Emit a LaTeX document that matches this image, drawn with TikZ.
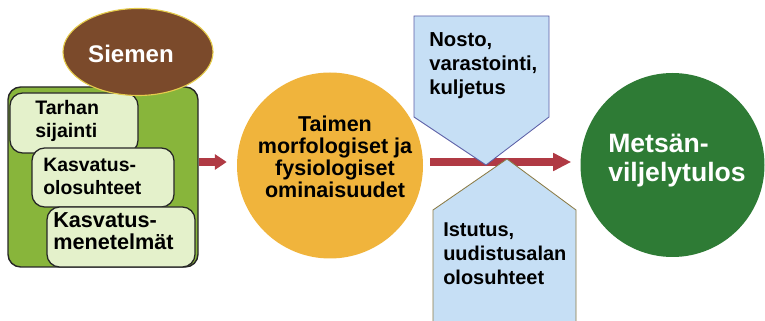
\documentclass[tikz,border=0pt]{standalone}
\usepackage{fontspec}
\setmainfont{Liberation Sans}
\usepackage{xcolor}
\usetikzlibrary{arrows.meta,shapes.geometric}
\newlength\pu
\setlength\pu{0.025cm}
\definecolor{framegreen}{HTML}{88B53B}
\definecolor{boxfill}{HTML}{E4F1CB}
\definecolor{seedbrown}{HTML}{7B4A2B}
\definecolor{plantorange}{HTML}{F0B43C}
\definecolor{resultgreen}{HTML}{2E7B35}
\definecolor{stageblue}{HTML}{C6DFF5}
\definecolor{arrowred}{HTML}{B03A44}
\definecolor{topborder}{HTML}{5B5EA6}
\definecolor{botborder}{HTML}{8B7B45}

\begin{document}
\begin{tikzpicture}[
  x=\pu, y=-\pu,
  frame/.style={
    rectangle, rounded corners=9pt,
    draw=black!85, line width=1pt, fill=framegreen,
    minimum width=190\pu, minimum height=180\pu, inner sep=0pt
  },
  factor/.style={
    rectangle, rounded corners=9pt,
    draw=black!85, line width=0.9pt, fill=boxfill,
    inner sep=0pt
  },
  disc/.style={circle, inner sep=0pt},
  stage/.style={draw, line width=0.6pt, fill=stageblue},
  txt/.style={inner sep=0pt, align=left, anchor=west, font=\bfseries},
  arr/.style={-{Triangle[length=8.5pt, width=10.7pt]}, line width=5pt, arrowred},
  arrbig/.style={-{Triangle[length=12.8pt, width=12.1pt]}, line width=5pt, arrowred},
]
\useasboundingbox (0,0) rectangle (765,321);

% Factors in the nursery
\node[frame] (frame) at (103,177) {};
\node[factor, minimum width=128\pu, minimum height=60\pu] (site) at (74,123) {};
\node[factor, minimum width=142\pu, minimum height=59\pu] (cond) at (103,177.5) {};
\node[factor, minimum width=148\pu, minimum height=60\pu] (meth) at (121,237) {};
\node[txt, font=\bfseries\fontsize{13.9pt}{16.4pt}\selectfont] (sitetext) at (35,121.3) {Tarhan\\sijainti};
\node[txt, font=\bfseries\fontsize{13.8pt}{16.4pt}\selectfont] (condtext) at (43,176.4) {Kasvatus-\\olosuhteet};
\node[txt, font=\bfseries\fontsize{15.4pt}{15.6pt}\selectfont] (methtext) at (53,231.1) {Kasvatus-\\menetelmät};

% Seed
\node[ellipse, draw=brown!50!yellow!80!white, line width=0.8pt, fill=seedbrown,
  minimum width=150\pu, minimum height=87\pu, inner sep=0pt] (seed) at (138,52) {};
\node[txt, anchor=center, text=white, font=\bfseries\fontsize{17.1pt}{19pt}\selectfont] (seedtext) at (131,53.5) {Siemen};

% Seedling
\node[disc, fill=plantorange, minimum size=186\pu] (plant) at (330,165.5) {};
\node[txt, anchor=center, align=center, font=\bfseries\fontsize{15.3pt}{15.65pt}\selectfont] (planttext) at (335,157.3)
  {Taimen\\morfologiset ja\\fysiologiset\\ominaisuudet};

% Result
\node[disc, fill=resultgreen, minimum size=184\pu] (result) at (672.5,165) {};
\node[txt, text=white, font=\bfseries\fontsize{18.9pt}{20.3pt}\selectfont] (resulttext) at (608,160.7)
  {Metsän-\\viljelytulos};

% Arrows
\draw[arr, shorten >=7.1pt] (frame.east |- 0,162) -- (plant.west |- 0,162);
\draw[arrbig, shorten <=5pt, shorten >=6.4pt] (plant.east |- 0,162) -- (result.west |- 0,162);

% Lifting and planting stages
\draw[stage, draw=topborder] (414,16) -- (549,16) -- (549,117) -- (486,165) -- (414,117) -- cycle;
\draw[stage, draw=botborder] (507,159) -- (576,210) -- (576,322) -- (433,322) -- (433,210) -- cycle;
\node[txt, font=\bfseries\fontsize{14.4pt}{17.1pt}\selectfont] (lifttext) at (429,65.9)
  {Nosto,\\varastointi,\\kuljetus};
\node[txt, font=\bfseries\fontsize{14.2pt}{17.1pt}\selectfont] (planttext2) at (443,253.9)
  {Istutus,\\uudistusalan\\olosuhteet};

\end{tikzpicture}
\end{document}
